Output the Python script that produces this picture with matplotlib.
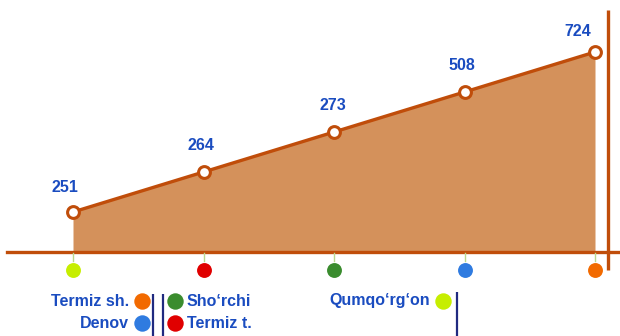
import numpy as np
import matplotlib
matplotlib.use("Agg")
import matplotlib.pyplot as plt

# Districts along the x axis and their values
districts = ["Qumqo‘rg‘on", "Termiz t.", "Sho‘rchi", "Denov", "Termiz sh."]
values = [251, 264, 273, 508, 724]
dot_colors = ["#c6ee00", "#e00000", "#3a8c2e", "#2f7be0", "#f26a00"]

LINE = "#c04d0a"
FILL = "#d4915b"
TEXT = "#1a4cc0"
NAVY = "#202a80"

plt.rcParams["font.family"] = ["Liberation Sans", "DejaVu Sans"]

# Ordinal value scale: each value step gets equal height on the chart
knots_v = np.array([0.0] + sorted(values), dtype=float)
knots_r = np.arange(len(knots_v), dtype=float)


def forward(v):
    v = np.asarray(v, dtype=float)
    r = np.interp(v, knots_v, knots_r)
    lo_slope = (knots_r[1] - knots_r[0]) / (knots_v[1] - knots_v[0])
    hi_slope = (knots_r[-1] - knots_r[-2]) / (knots_v[-1] - knots_v[-2])
    r = np.where(v < knots_v[0], knots_r[0] + (v - knots_v[0]) * lo_slope, r)
    r = np.where(v > knots_v[-1], knots_r[-1] + (v - knots_v[-1]) * hi_slope, r)
    return r


def inverse(r):
    r = np.asarray(r, dtype=float)
    v = np.interp(r, knots_r, knots_v)
    lo_slope = (knots_v[1] - knots_v[0]) / (knots_r[1] - knots_r[0])
    hi_slope = (knots_v[-1] - knots_v[-2]) / (knots_r[-1] - knots_r[-2])
    v = np.where(r < knots_r[0], knots_v[0] + (r - knots_r[0]) * lo_slope, v)
    v = np.where(r > knots_r[-1], knots_v[-1] + (r - knots_r[-1]) * hi_slope, v)
    return v


W, H = 620, 336
fig = plt.figure(figsize=(W / 100, H / 100), dpi=100)
ax = fig.add_axes([0, 0, 1, 1])
ax.set_yscale("function", functions=(forward, inverse))
ax.set_xlim(-73 / 130.5, 4 + 25 / 130.5)
ax.set_ylim(float(inverse(-84 / 40)), float(inverse(5 + 52 / 40)))
ax.axis("off")

x = np.arange(len(values))

# Area, line and ring markers
ax.fill_between(x, 0, values, color=FILL, lw=0, zorder=1)
ax.plot(x, values, color=LINE, lw=2.4, zorder=3,
        marker="o", ms=8.5, mfc="white", mec=LINE, mew=2.2)

# Value labels (offsets in pixels)
label_dx = [-8, -3, -1, -3, -17]
label_dy = [25, 26, 26, 26, 20]
for xi, v, dx, dy in zip(x, values, label_dx, label_dy):
    ax.annotate(str(v), (xi, v), xytext=(dx, dy), textcoords="offset pixels",
                ha="center", va="center", color=TEXT, fontsize=11.5,
                fontweight="bold", zorder=5)

# Baseline and right-hand vertical rule
ax.axhline(0, xmin=7 / W, xmax=1, color=LINE, lw=2.4, zorder=2)
trans_xaxes = ax.get_xaxis_transform()
ax.plot([4 + 13 / 130.5] * 2, [1 - 10 / H, 1 - 270 / H], color=LINE,
        lw=2.4, transform=trans_xaxes, zorder=2, solid_capstyle="butt")

# Category dots below the baseline with small ticks
for xi, c in zip(x, dot_colors):
    ax.plot([xi, xi], [1 - 253 / H, 1 - 261 / H], color="#b9d98e", lw=1,
            transform=trans_xaxes, zorder=2)
    ax.scatter([xi], [1 - 270 / H], s=115, color=c, transform=trans_xaxes,
               zorder=4, linewidths=0)

# Legend in pixel coordinates
lax = fig.add_axes([0, 0, 1, 1], facecolor="none")
lax.set_xlim(0, W)
lax.set_ylim(H, 0)
lax.axis("off")

legend_items = [
    (districts[4], dot_colors[4], 142, 301, "right"),
    (districts[3], dot_colors[3], 142, 323, "right"),
    (districts[2], dot_colors[2], 175, 301, "left"),
    (districts[1], dot_colors[1], 175, 323, "left"),
    (districts[0], dot_colors[0], 443, 301, "right"),
]
for name, c, dx, dy, side in legend_items:
    lax.scatter([dx], [dy], s=140, color=c, linewidths=0)
    if side == "right":
        lax.text(dx - 13, dy, name, ha="right", va="center", color=TEXT,
                 fontsize=11.5, fontweight="bold")
    else:
        lax.text(dx + 12, dy, name, ha="left", va="center", color=TEXT,
                 fontsize=11.5, fontweight="bold")

for lx, top in [(153, 294), (163, 294), (457, 292)]:
    lax.plot([lx, lx], [top, H], color=NAVY, lw=1.6, solid_capstyle="butt")

fig.savefig("out.png", dpi=100)
